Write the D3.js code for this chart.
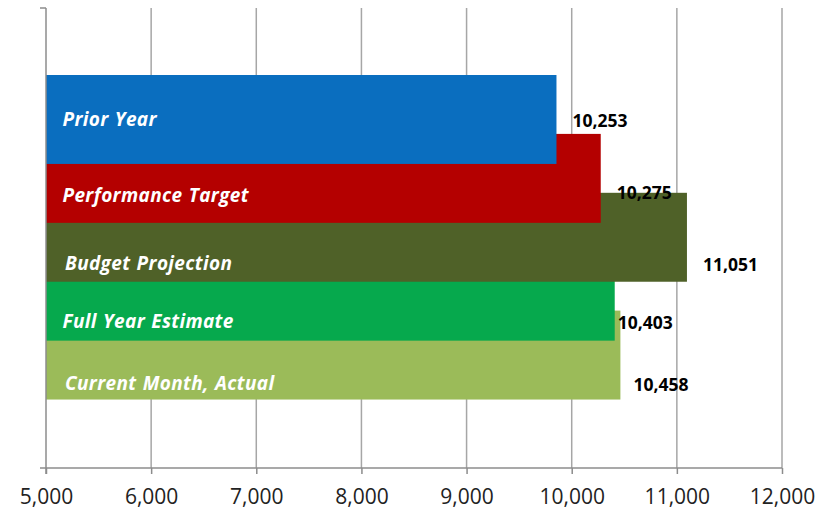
<!DOCTYPE html>
<html><head><meta charset="utf-8">
<script src="https://d3js.org/d3.v7.min.js"></script>
<style>
html,body{margin:0;padding:0;background:#fff;}
svg{display:block;}
</style></head>
<body>
<svg id="chart" width="837" height="511"></svg>
<script>
// ---- data ----
const categories = ["Prior Year", "Performance Target", "Budget Projection", "Full Year Estimate", "Current Month, Actual"];
const barValues = [9855, 10276, 11096, 10409, 10463];          // bar lengths as drawn
const valueLabels = ["10,253", "10,275", "11,051", "10,403", "10,458"]; // data labels as printed
const tickValues = [5000, 6000, 7000, 8000, 9000, 10000, 11000, 12000];
const colors = ["#0A6EBF", "#B40000", "#4F6128", "#06A94D", "#9BBB59"];

// ---- layout ----
const svg = d3.select("#chart");
const plotTop = 8, plotBottom = 468;
const x = d3.scaleLinear().domain([5000, 12000]).range([46, 782]);
const y = d3.scaleBand().domain(categories).range([75, 75 + 5 * 58.9]).paddingInner(0).paddingOuter(0);
const barH = y.step() * 1.51;
const labelY = [119, 195, 263, 321, 383];   // layout: text centre positions
const valueDx = [16, 16, 16, 3, 13];         // layout: value label offset from bar end

// gridlines
svg.append("g").selectAll("line").data(tickValues.slice(1)).join("line")
  .attr("x1", d => x(d)).attr("x2", d => x(d))
  .attr("y1", plotTop).attr("y2", plotBottom)
  .attr("stroke", "#A6A6A6").attr("stroke-width", 1.5);

// bars (draw last first so earlier bars are on top)
const data = categories.map((c, i) => ({c, v: barValues[i], lab: valueLabels[i], col: colors[i], i}));
const order = data.slice().reverse();
svg.append("g").selectAll("rect").data(order).join("rect")
  .attr("x", x(5000))
  .attr("y", d => y(d.c))
  .attr("width", d => x(d.v) - x(5000))
  .attr("height", barH)
  .attr("fill", d => d.col);

// category labels inside bars
svg.append("g").selectAll("text").data(data).join("text")
  .attr("x", d => (d.i === 2 || d.i === 4) ? 65 : 62.5)
  .attr("y", d => labelY[d.i])
  .attr("dy", "0.35em")
  .attr("fill", "#fff")
  .attr("font-family", "'Open Sans', sans-serif")
  .attr("font-size", 19)
  .attr("letter-spacing", 0.35)
  .attr("word-spacing", 1)
  .attr("font-weight", "bold")
  .attr("font-style", "italic")
  .text(d => d.c);

// value labels
svg.append("g").selectAll("text").data(data).join("text")
  .attr("x", d => x(d.v) + valueDx[d.i])
  .attr("y", d => labelY[d.i] + (d.i === 1 ? -2 : 1.5))
  .attr("dy", "0.35em")
  .attr("fill", "#000")
  .attr("font-family", "'Open Sans', sans-serif")
  .attr("font-size", 17.5)
  .attr("font-weight", "bold")
  .text(d => d.lab);

// left axis line
svg.append("line").attr("x1", 46).attr("x2", 46).attr("y1", plotTop).attr("y2", plotBottom + 6)
  .attr("stroke", "#8C8C8C").attr("stroke-width", 1.5);
svg.append("line").attr("x1", 40).attr("x2", 46).attr("y1", plotTop).attr("y2", plotTop)
  .attr("stroke", "#8C8C8C").attr("stroke-width", 1.5);

// bottom axis
const xAxis = d3.axisBottom(x).tickValues(tickValues).tickFormat(d3.format(",")).tickSize(6).tickSizeOuter(0).tickPadding(15);
const gx = svg.append("g").attr("transform", `translate(0,${plotBottom})`).call(xAxis);
gx.select(".domain").attr("d", `M40,0H${x(12000)}`).attr("stroke", "#8C8C8C").attr("stroke-width", 1.5);
gx.selectAll(".tick line").attr("stroke", "#8C8C8C").attr("stroke-width", 1.5);
gx.selectAll(".tick text").attr("fill", "#222")
  .attr("font-family", "'Open Sans', sans-serif").attr("font-size", 21);
</script>
</body></html>
